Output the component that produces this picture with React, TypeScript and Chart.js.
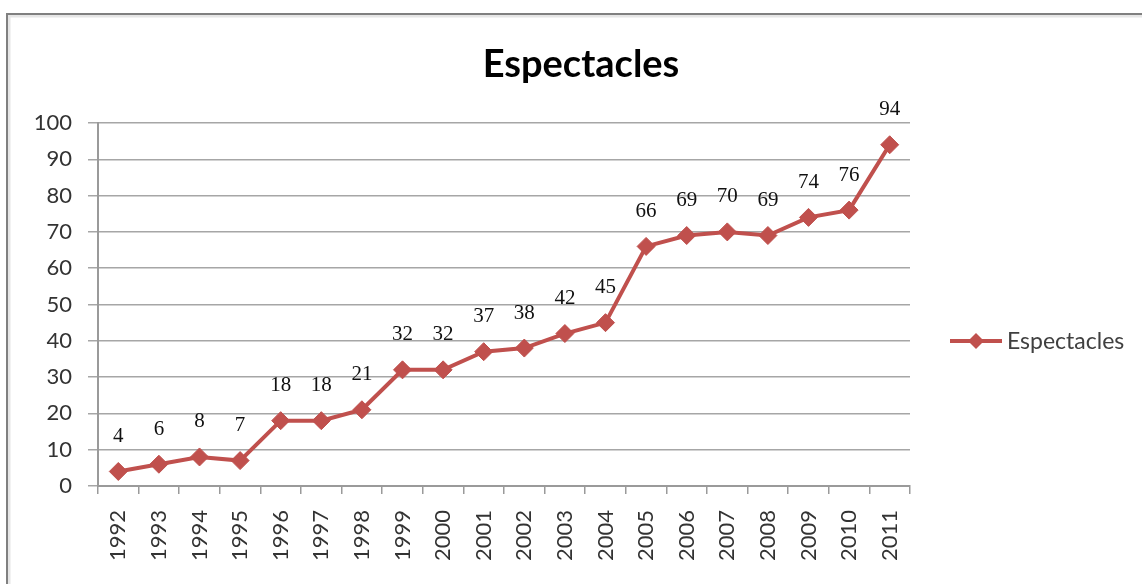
import React, { useEffect, useRef } from "react";
import { Chart, registerables } from "chart.js";

Chart.register(...registerables);

const TITLE = "Espectacles";
const SERIES_NAME = "Espectacles";
const YEARS = ["1992","1993","1994","1995","1996","1997","1998","1999","2000","2001","2002","2003","2004","2005","2006","2007","2008","2009","2010","2011"];
const VALUES = [4, 6, 8, 7, 18, 18, 21, 32, 32, 37, 38, 42, 45, 66, 69, 70, 69, 74, 76, 94];
const Y_MIN = 0;
const Y_MAX = 100;
const Y_STEP = 10;

const RED = "#C0504D";
const TICK_FONT = "Lato";

const decorPlugin = {
  id: "decor",
  beforeDraw(chart: any) {
    const ctx = chart.ctx;
    ctx.save();
    ctx.fillStyle = "#ffffff";
    ctx.fillRect(0, 0, chart.width, chart.height);
    ctx.strokeStyle = "#e6e6e6";
    ctx.lineWidth = 3;
    ctx.beginPath();
    ctx.moveTo(9, chart.height);
    ctx.lineTo(9, 16);
    ctx.lineTo(chart.width, 16);
    ctx.stroke();
    ctx.strokeStyle = "#808080";
    ctx.lineWidth = 2;
    ctx.beginPath();
    ctx.moveTo(7, chart.height);
    ctx.lineTo(7, 14);
    ctx.lineTo(chart.width, 14);
    ctx.stroke();
    ctx.restore();
  },
  afterDatasetsDraw(chart: any) {
    const ctx = chart.ctx;
    ctx.save();
    ctx.fillStyle = "#000000";
    ctx.font = "bold 38px Lato";
    ctx.textAlign = "center";
    ctx.textBaseline = "alphabetic";
    ctx.fillText(TITLE, 581, 77);
    const meta = chart.getDatasetMeta(0);
    ctx.font = "21px 'Liberation Serif'";
    ctx.fillStyle = "#111111";
    ctx.textBaseline = "middle";
    meta.data.forEach((pt: any, i: number) => {
      ctx.fillText(String(VALUES[i]), pt.x, pt.y - 35);
    });
    const ly = 341;
    ctx.strokeStyle = RED;
    ctx.lineWidth = 4;
    ctx.beginPath();
    ctx.moveTo(950, ly);
    ctx.lineTo(1002, ly);
    ctx.stroke();
    ctx.fillStyle = RED;
    ctx.beginPath();
    const r = 8;
    ctx.moveTo(976, ly - r);
    ctx.lineTo(976 + r, ly);
    ctx.lineTo(976, ly + r);
    ctx.lineTo(976 - r, ly);
    ctx.closePath();
    ctx.fill();
    ctx.fillStyle = "#404040";
    ctx.font = `23px ${TICK_FONT}`;
    ctx.textAlign = "left";
    ctx.textBaseline = "middle";
    ctx.fillText(SERIES_NAME, 1007, ly + 1);
    ctx.restore();
  },
};

export default function App() {
  const ref = useRef<HTMLCanvasElement | null>(null);
  useEffect(() => {
    if (!ref.current) return;
    const chart = new Chart(ref.current, {
      type: "line",
      data: {
        labels: YEARS,
        datasets: [
          {
            label: SERIES_NAME,
            data: VALUES,
            borderColor: RED,
            backgroundColor: RED,
            borderWidth: 4,
            pointStyle: "rectRot",
            pointRadius: 9,
            pointBorderWidth: 1,
            pointBackgroundColor: RED,
            pointBorderColor: RED,
            tension: 0,
          },
        ],
      },
      options: {
        animation: false,
        responsive: true,
        maintainAspectRatio: false,
        layout: { padding: { left: 0, right: 232, top: 123, bottom: 0 } },
        plugins: {
          legend: { display: false },
          title: { display: false },
          tooltip: { enabled: false },
        },
        scales: {
          x: {
            type: "category",
            offset: true,
            grid: {
              offset: true,
              drawOnChartArea: false,
              drawTicks: true,
              tickLength: 8,
              color: "#9a9a9a",
              lineWidth: 1.5,
            },
            border: { display: true, color: "#9a9a9a", width: 2 },
            ticks: {
              minRotation: 90,
              maxRotation: 90,
              autoSkip: false,
              padding: 16,
              color: "#333333",
              font: { family: TICK_FONT, size: 22 },
            },
            afterFit(scale: any) {
              scale.height = 98;
            },
          },
          y: {
            min: Y_MIN,
            max: Y_MAX,
            grid: {
              color: "#a6a6a6",
              lineWidth: 1.5,
              tickLength: 10,
            },
            border: { display: true, color: "#9a9a9a", width: 2 },
            ticks: {
              stepSize: Y_STEP,
              padding: 16,
              color: "#333333",
              font: { family: TICK_FONT, size: 22 },
            },
            afterFit(scale: any) {
              scale.width = 98;
            },
          },
        },
      },
      plugins: [decorPlugin],
    });
    return () => chart.destroy();
  }, []);
  return (
    <div style={{ position: "fixed", left: 0, top: 0, width: 1142, height: 584, background: "#fff" }}>
      <canvas ref={ref} />
    </div>
  );
}
